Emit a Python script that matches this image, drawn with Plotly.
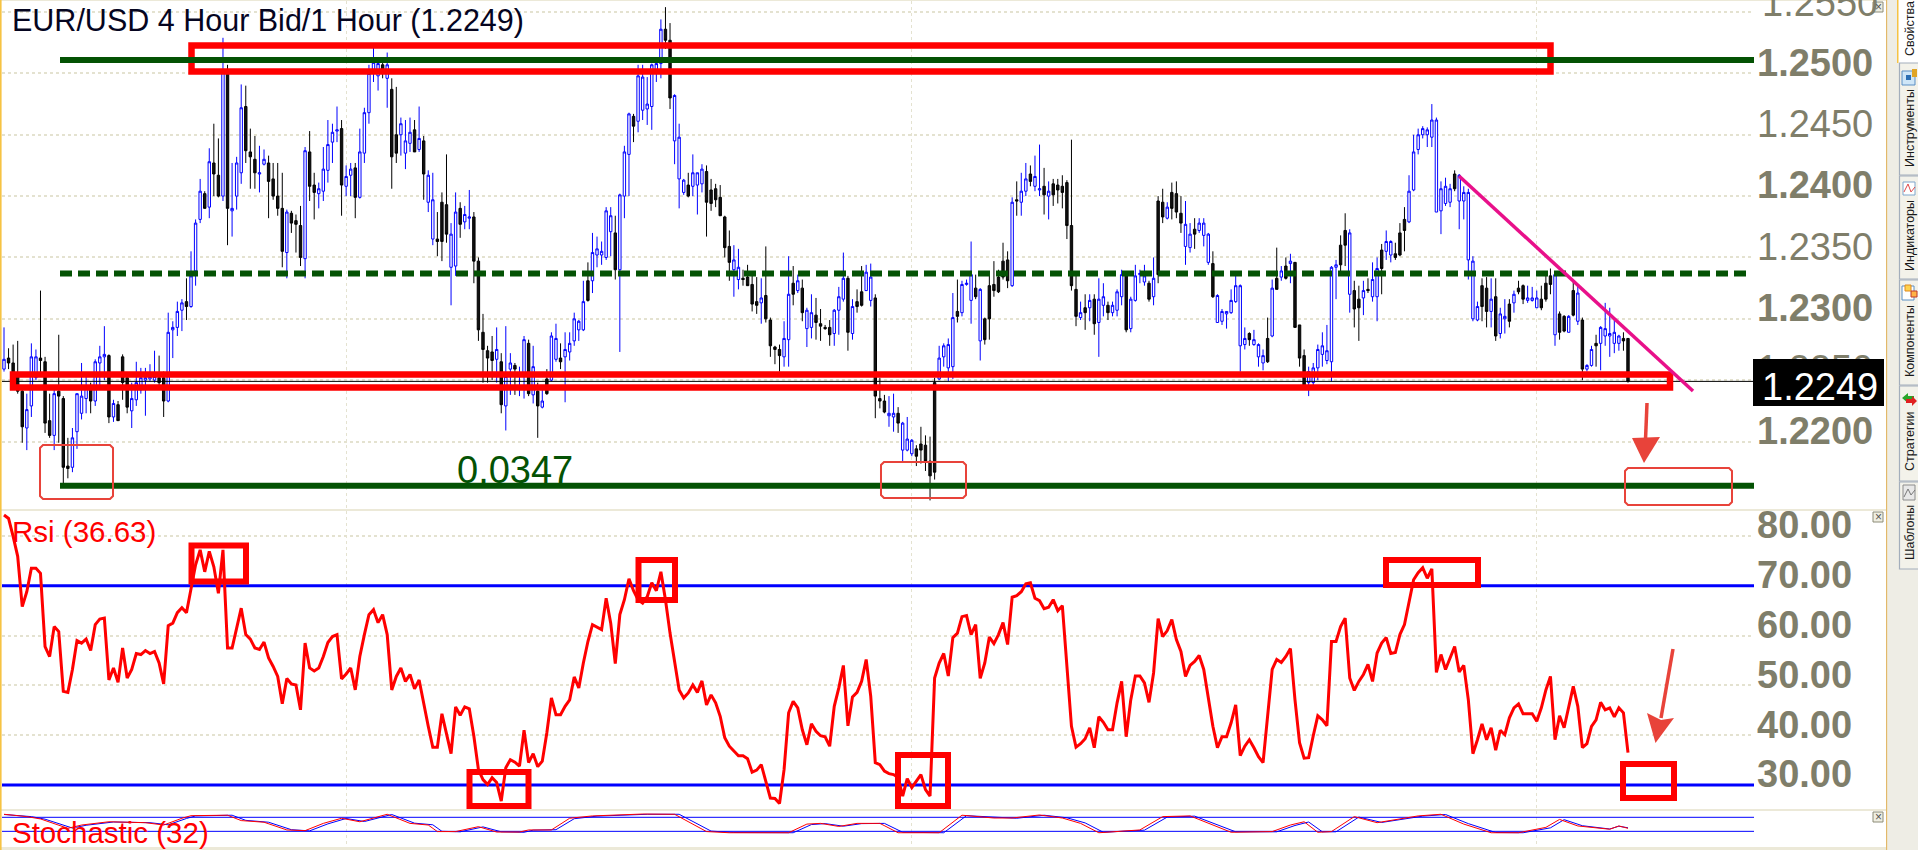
import plotly.graph_objects as go

W, H = 1918, 850

# candles, in pips (12500 = 1.2500)
up_flags = ("BKKKKBBBKK" "KBKKKBBBBK" "BBBKBKKKBB" "BBBBKKBBBB" "KBBBKBKKBK"
            "BBBKKKBBKK" "KKBKKKBKKB" "BBBBKBBKBB" "BBBKBKKBBB" "KBKBBKKKBB"
            "KBBKKKKKBK" "BBKBBKBKBK" "BBKBBBBBKB" "BBBBKBBBKB" "BBBBBKKBBB"
            "KBBBKKKKKK" "BBKKKKBKKK" "KBBKBKBBKK" "KKBBBKBKKB" "BKKKBBKBBB"
            "KKKKKBBBBK" "BBBKBKKKKK" "KBKBBKBBKB" "KKKKKKBKBK" "BBKBBBKBBB"
            "BKBKKBKKKB" "BKBBBKBBBB" "BBBKBBBKBK" "BKBKKKBBBB" "BBBKKBKKBK"
            "BBKBBKKKBB" "BBBBBBBBKB" "BBBBKKBKBB" "KBKKBBBKKK" "BKKBKBKBBK"
            "BBBBBKKBKB")

highs = [12293, 12276, 12279, 12282, 12242, 12239, 12280, 12275, 12323, 12269,
         12239, 12242, 12287, 12237, 12203, 12211, 12239, 12264, 12253, 12248,
         12267, 12278, 12294, 12271, 12234, 12233, 12271, 12253, 12248, 12265,
         12260, 12260, 12263, 12274, 12270, 12257, 12305, 12298, 12314, 12316,
         12333, 12355, 12381, 12414, 12404, 12439, 12459, 12447, 12529, 12507,
         12427, 12432, 12491, 12490, 12455, 12449, 12441, 12438, 12433, 12427,
         12427, 12419, 12389, 12388, 12385, 12392, 12440, 12453, 12419, 12411,
         12440, 12462, 12459, 12473, 12462, 12425, 12427, 12427, 12455, 12472,
         12507, 12521, 12513, 12511, 12517, 12496, 12489, 12464, 12462, 12464,
         12462, 12473, 12449, 12421, 12419, 12387, 12403, 12434, 12378, 12403,
         12395, 12392, 12405, 12387, 12350, 12304, 12278, 12286, 12293, 12272,
         12294, 12272, 12264, 12261, 12286, 12283, 12278, 12248, 12245, 12259,
         12289, 12296, 12280, 12289, 12289, 12305, 12299, 12331, 12346, 12370,
         12367, 12363, 12391, 12391, 12384, 12402, 12441, 12468, 12467, 12507,
         12507, 12497, 12508, 12509, 12544, 12554, 12541, 12483, 12459, 12414,
         12419, 12434, 12419, 12426, 12425, 12414, 12410, 12409, 12384, 12372,
         12360, 12357, 12340, 12344, 12335, 12334, 12333, 12359, 12301, 12278,
         12279, 12298, 12351, 12343, 12336, 12332, 12309, 12320, 12317, 12308,
         12295, 12299, 12308, 12326, 12354, 12335, 12316, 12324, 12343, 12344,
         12345, 12320, 12252, 12238, 12237, 12239, 12228, 12216, 12220, 12202,
         12197, 12212, 12205, 12204, 12252, 12278, 12280, 12284, 12321, 12332,
         12331, 12332, 12363, 12336, 12325, 12301, 12336, 12347, 12340, 12362,
         12355, 12399, 12412, 12419, 12427, 12425, 12433, 12442, 12423, 12412,
         12414, 12414, 12417, 12413, 12446, 12335, 12314, 12320, 12320, 12320,
         12333, 12329, 12314, 12314, 12324, 12340, 12338, 12318, 12344, 12340,
         12344, 12331, 12350, 12400, 12406, 12395, 12411, 12412, 12400, 12396,
         12378, 12382, 12382, 12382, 12370, 12355, 12320, 12308, 12306, 12324,
         12336, 12328, 12293, 12289, 12291, 12280, 12275, 12301, 12332, 12358,
         12343, 12350, 12353, 12346, 12295, 12275, 12261, 12264, 12279, 12289,
         12295, 12343, 12348, 12368, 12386, 12373, 12331, 12327, 12331, 12333,
         12346, 12350, 12361, 12372, 12364, 12362, 12378, 12391, 12417, 12450,
         12455, 12457, 12456, 12475, 12464, 12412, 12415, 12410, 12421, 12418,
         12408, 12406, 12351, 12314, 12333, 12334, 12333, 12333, 12309, 12316,
         12316, 12323, 12331, 12328, 12327, 12326, 12323, 12327, 12338, 12341,
         12336, 12306, 12303, 12303, 12331, 12327, 12301, 12263, 12278, 12287,
         12294, 12313, 12309, 12301, 12287, 12289, 12284]

body_tops = [12267, 12268, 12264, 12256, 12241, 12226, 12269, 12269, 12268, 12265,
             12217, 12239, 12241, 12235, 12180, 12203, 12239, 12237, 12244, 12242,
             12265, 12269, 12271, 12270, 12231, 12230, 12269, 12252, 12235, 12248,
             12252, 12252, 12253, 12253, 12252, 12252, 12289, 12293, 12306, 12313,
             12314, 12335, 12378, 12404, 12402, 12428, 12427, 12417, 12501, 12500,
             12390, 12427, 12472, 12473, 12436, 12430, 12419, 12430, 12427, 12414,
             12400, 12390, 12387, 12386, 12380, 12376, 12437, 12436, 12409, 12406,
             12422, 12442, 12452, 12454, 12455, 12416, 12422, 12423, 12436, 12468,
             12500, 12509, 12508, 12507, 12507, 12487, 12450, 12459, 12445, 12452,
             12454, 12447, 12445, 12417, 12397, 12365, 12395, 12393, 12369, 12387,
             12390, 12385, 12383, 12383, 12347, 12289, 12274, 12273, 12275, 12265,
             12253, 12264, 12262, 12256, 12283, 12280, 12261, 12241, 12233, 12251,
             12286, 12284, 12268, 12275, 12280, 12300, 12298, 12314, 12331, 12354,
             12357, 12355, 12388, 12384, 12370, 12401, 12436, 12467, 12465, 12498,
             12497, 12475, 12507, 12508, 12536, 12536, 12527, 12482, 12448, 12413,
             12409, 12419, 12419, 12422, 12420, 12405, 12406, 12399, 12383, 12359,
             12348, 12342, 12333, 12334, 12328, 12314, 12317, 12319, 12299, 12277,
             12275, 12284, 12320, 12329, 12331, 12325, 12307, 12305, 12303, 12296,
             12293, 12293, 12307, 12318, 12333, 12333, 12310, 12314, 12322, 12338,
             12334, 12317, 12235, 12233, 12223, 12223, 12223, 12215, 12202, 12201,
             12194, 12198, 12197, 12184, 12248, 12268, 12278, 12279, 12301, 12306,
             12328, 12329, 12336, 12325, 12324, 12300, 12327, 12328, 12334, 12347,
             12348, 12395, 12397, 12404, 12414, 12418, 12416, 12406, 12408, 12404,
             12410, 12409, 12408, 12411, 12376, 12324, 12305, 12309, 12315, 12316,
             12316, 12318, 12311, 12311, 12322, 12336, 12336, 12316, 12335, 12337,
             12335, 12329, 12333, 12396, 12395, 12391, 12403, 12402, 12386, 12377,
             12369, 12373, 12378, 12378, 12369, 12345, 12319, 12306, 12306, 12315,
             12327, 12327, 12284, 12288, 12283, 12279, 12270, 12284, 12325, 12333,
             12339, 12343, 12347, 12346, 12295, 12270, 12257, 12260, 12275, 12278,
             12274, 12342, 12344, 12360, 12372, 12370, 12323, 12316, 12323, 12324,
             12332, 12341, 12356, 12363, 12363, 12353, 12370, 12381, 12404, 12436,
             12450, 12455, 12454, 12462, 12462, 12406, 12408, 12406, 12418, 12417,
             12403, 12403, 12347, 12310, 12327, 12325, 12316, 12318, 12304, 12302,
             12312, 12320, 12325, 12327, 12317, 12317, 12317, 12316, 12329, 12335,
             12336, 12304, 12302, 12302, 12323, 12321, 12299, 12262, 12275, 12280,
             12293, 12292, 12288, 12289, 12286, 12284, 12284]

body_bottoms = [12259, 12264, 12249, 12241, 12212, 12211, 12229, 12252, 12266, 12215,
                12205, 12205, 12237, 12179, 12178, 12179, 12208, 12223, 12235, 12233,
                12233, 12264, 12269, 12220, 12220, 12217, 12248, 12228, 12225, 12234,
                12242, 12250, 12251, 12250, 12248, 12233, 12233, 12291, 12293, 12307,
                12310, 12310, 12339, 12381, 12390, 12391, 12418, 12400, 12400, 12390,
                12388, 12400, 12419, 12437, 12432, 12419, 12418, 12426, 12412, 12400,
                12390, 12355, 12354, 12378, 12377, 12350, 12349, 12408, 12403, 12402,
                12404, 12421, 12444, 12453, 12409, 12408, 12417, 12399, 12399, 12435,
                12468, 12500, 12498, 12500, 12496, 12432, 12435, 12450, 12435, 12443,
                12436, 12438, 12418, 12395, 12365, 12363, 12363, 12369, 12342, 12343,
                12377, 12379, 12382, 12347, 12291, 12275, 12268, 12266, 12267, 12230,
                12229, 12259, 12259, 12253, 12254, 12239, 12238, 12229, 12228, 12239,
                12250, 12267, 12265, 12269, 12273, 12282, 12291, 12291, 12315, 12331,
                12352, 12352, 12350, 12371, 12340, 12340, 12400, 12434, 12457, 12461,
                12470, 12471, 12473, 12500, 12508, 12527, 12480, 12445, 12414, 12403,
                12400, 12408, 12409, 12410, 12395, 12394, 12397, 12384, 12358, 12346,
                12340, 12332, 12332, 12327, 12312, 12311, 12313, 12300, 12278, 12275,
                12270, 12269, 12283, 12320, 12323, 12305, 12292, 12293, 12297, 12294,
                12292, 12287, 12288, 12307, 12316, 12289, 12288, 12310, 12311, 12323,
                12315, 12237, 12233, 12224, 12221, 12220, 12215, 12193, 12193, 12190,
                12188, 12193, 12184, 12172, 12175, 12251, 12269, 12260, 12261, 12302,
                12305, 12328, 12315, 12318, 12282, 12283, 12300, 12323, 12322, 12334,
                12331, 12327, 12396, 12395, 12404, 12412, 12408, 12405, 12401, 12400,
                12401, 12405, 12403, 12376, 12327, 12302, 12301, 12305, 12309, 12296,
                12297, 12311, 12305, 12305, 12307, 12318, 12291, 12292, 12315, 12336,
                12330, 12316, 12318, 12336, 12383, 12382, 12390, 12387, 12378, 12359,
                12358, 12369, 12372, 12368, 12346, 12318, 12297, 12298, 12304, 12305,
                12314, 12278, 12279, 12283, 12279, 12269, 12264, 12265, 12286, 12324,
                12334, 12333, 12345, 12293, 12268, 12245, 12248, 12248, 12260, 12271,
                12266, 12265, 12342, 12344, 12360, 12320, 12308, 12309, 12317, 12323,
                12318, 12318, 12341, 12355, 12352, 12350, 12352, 12372, 12379, 12405,
                12438, 12450, 12450, 12448, 12387, 12388, 12394, 12395, 12406, 12396,
                12396, 12348, 12300, 12299, 12310, 12306, 12306, 12286, 12288, 12300,
                12298, 12313, 12322, 12316, 12315, 12315, 12309, 12309, 12316, 12328,
                12287, 12289, 12290, 12289, 12303, 12298, 12259, 12259, 12262, 12278,
                12280, 12286, 12286, 12280, 12280, 12282, 12249]

lows = [12257, 12259, 12242, 12239, 12199, 12193, 12220, 12250, 12253, 12207,
        12203, 12193, 12199, 12166, 12170, 12175, 12194, 12218, 12223, 12223,
        12229, 12244, 12250, 12215, 12216, 12217, 12234, 12223, 12211, 12229,
        12239, 12221, 12249, 12248, 12245, 12220, 12232, 12268, 12286, 12290,
        12299, 12309, 12327, 12378, 12390, 12382, 12400, 12399, 12396, 12360,
        12367, 12389, 12410, 12427, 12406, 12406, 12403, 12425, 12382, 12397,
        12384, 12342, 12333, 12370, 12354, 12343, 12333, 12396, 12381, 12390,
        12396, 12411, 12427, 12444, 12384, 12400, 12400, 12382, 12398, 12427,
        12459, 12493, 12486, 12496, 12472, 12406, 12427, 12433, 12422, 12436,
        12436, 12436, 12397, 12387, 12360, 12351, 12347, 12362, 12311, 12335,
        12366, 12373, 12373, 12329, 12282, 12248, 12248, 12250, 12248, 12223,
        12209, 12238, 12238, 12237, 12235, 12237, 12231, 12203, 12227, 12238,
        12249, 12265, 12259, 12232, 12266, 12278, 12282, 12290, 12314, 12321,
        12342, 12344, 12348, 12351, 12332, 12273, 12382, 12400, 12444, 12452,
        12462, 12458, 12454, 12493, 12496, 12520, 12471, 12426, 12390, 12401,
        12399, 12400, 12385, 12403, 12367, 12388, 12391, 12384, 12350, 12331,
        12318, 12324, 12327, 12327, 12306, 12304, 12296, 12297, 12269, 12263,
        12257, 12261, 12261, 12311, 12321, 12298, 12277, 12284, 12283, 12282,
        12291, 12278, 12278, 12287, 12314, 12274, 12283, 12305, 12310, 12323,
        12310, 12219, 12227, 12223, 12212, 12208, 12207, 12184, 12192, 12188,
        12180, 12182, 12176, 12152, 12169, 12250, 12261, 12249, 12251, 12297,
        12302, 12327, 12296, 12316, 12266, 12279, 12283, 12318, 12321, 12332,
        12325, 12326, 12384, 12384, 12400, 12408, 12404, 12400, 12385, 12381,
        12392, 12394, 12390, 12365, 12323, 12294, 12299, 12291, 12298, 12287,
        12269, 12302, 12299, 12302, 12302, 12311, 12289, 12289, 12314, 12329,
        12327, 12314, 12311, 12329, 12378, 12381, 12381, 12382, 12370, 12344,
        12354, 12357, 12370, 12359, 12344, 12317, 12297, 12295, 12292, 12304,
        12313, 12257, 12275, 12278, 12278, 12261, 12258, 12264, 12285, 12324,
        12331, 12332, 12329, 12293, 12261, 12245, 12237, 12246, 12250, 12261,
        12263, 12249, 12316, 12335, 12343, 12305, 12293, 12282, 12303, 12321,
        12314, 12298, 12320, 12348, 12346, 12348, 12351, 12355, 12378, 12404,
        12434, 12447, 12440, 12440, 12387, 12369, 12392, 12391, 12404, 12373,
        12381, 12332, 12298, 12298, 12298, 12293, 12293, 12282, 12284, 12288,
        12293, 12305, 12320, 12312, 12313, 12314, 12309, 12307, 12314, 12320,
        12278, 12283, 12289, 12289, 12302, 12295, 12250, 12257, 12261, 12261,
        12258, 12278, 12269, 12272, 12274, 12274, 12248]

rsi_values = [84.2, 83.5, 79.9, 75.9, 65.8, 68.8, 73.5, 73.5, 72.5, 57.8,
              55.8, 61.8, 60.8, 48.8, 48.6, 53.2, 59.0, 58.5, 59.3, 57.0,
              62.2, 63.3, 63.5, 51.1, 53.5, 50.6, 57.5, 51.5, 53.2, 56.4,
              56.2, 57.0, 56.4, 56.8, 54.5, 50.3, 62.0, 62.5, 64.6, 65.6,
              64.6, 69.5, 74.2, 77.2, 72.8, 76.9, 73.8, 68.5, 77.2, 57.5,
              57.5, 61.5, 65.5, 60.2, 59.3, 57.5, 57.2, 58.7, 55.5, 53.8,
              51.8, 46.3, 51.4, 50.3, 50.1, 45.1, 58.5, 53.5, 52.9, 53.5,
              55.8, 58.6, 59.8, 60.2, 51.3, 52.3, 53.5, 49.1, 55.8, 60.2,
              64.2, 65.2, 62.6, 64.2, 60.2, 49.1, 51.8, 53.5, 50.8, 52.2,
              49.3, 51.1, 46.1, 41.8, 37.6, 37.6, 44.3, 40.5, 36.3, 45.7,
              44.0, 45.7, 45.3, 39.8, 33.1, 31.1, 30.1, 31.5, 30.5, 26.8,
              33.5, 35.1, 34.6, 33.8, 41.0, 34.5, 36.3, 33.7, 34.8, 40.5,
              47.5, 44.1, 44.1, 45.8, 47.1, 51.7, 49.5, 54.5, 58.8, 62.2,
              61.7, 61.2, 67.5, 62.5, 54.4, 64.2, 67.2, 71.4, 69.0, 67.2,
              66.5, 67.8, 70.6, 69.0, 72.8, 67.2, 60.5, 54.5, 49.1, 47.5,
              48.5, 50.1, 48.6, 50.9, 46.1, 48.1, 46.5, 43.8, 39.5, 37.8,
              36.8, 35.9, 35.9, 35.3, 32.6, 33.0, 34.1, 30.5, 27.4, 27.3,
              26.3, 33.1, 44.5, 46.8, 45.5, 41.1, 38.1, 42.3, 40.8, 39.9,
              39.7, 37.8, 45.8, 49.5, 54.0, 41.9, 47.7, 48.6, 50.8, 55.2,
              47.8, 34.5, 34.1, 32.8, 32.3, 32.1, 31.5, 27.8, 31.3, 29.5,
              30.8, 32.1, 29.1, 27.8, 51.5, 54.5, 56.4, 51.9, 59.6, 60.5,
              63.8, 64.0, 60.2, 62.2, 51.4, 54.5, 59.7, 58.4, 60.2, 62.6,
              58.2, 67.7, 68.0, 68.8, 70.4, 70.6, 67.5, 67.0, 65.4, 65.7,
              67.2, 65.0, 66.0, 53.8, 41.8, 37.6, 38.3, 39.3, 41.5, 37.5,
              43.7, 42.6, 41.1, 41.1, 46.5, 50.8, 39.7, 47.1, 51.9, 51.9,
              50.5, 46.6, 52.5, 63.4, 59.8, 61.0, 63.2, 59.2, 56.8, 51.8,
              54.0, 54.8, 56.0, 53.2, 47.8, 41.8, 37.5, 39.7, 39.7, 42.5,
              46.1, 35.9, 37.8, 39.1, 37.5, 35.7, 34.5, 43.8, 53.2, 55.2,
              54.6, 55.8, 57.4, 47.1, 38.5, 35.4, 35.5, 39.9, 43.9, 43.1,
              41.9, 58.8, 58.8, 61.8, 63.5, 51.5, 49.0, 50.8, 52.2, 54.2,
              50.8, 56.5, 58.5, 59.6, 56.4, 56.6, 60.2, 62.2, 66.8, 71.2,
              72.6, 73.6, 71.5, 73.4, 52.6, 56.2, 53.2, 55.5, 57.8, 52.7,
              54.0, 47.1, 36.3, 39.1, 42.3, 39.1, 41.5, 37.0, 41.0, 40.1,
              43.5, 45.5, 46.3, 44.3, 44.3, 44.3, 42.8, 45.5, 49.1, 51.8,
              39.1, 43.9, 41.5, 45.5, 49.8, 45.8, 37.5, 38.3, 41.8, 43.1,
              46.6, 45.1, 45.5, 43.7, 45.5, 44.5, 36.5]

stoch_bars = [0, 5, 8, 14, 17, 23, 31, 35, 39, 41, 49, 52, 57, 62, 66, 70, 74, 78, 84, 89,
              93, 95, 99, 104, 108, 113, 115, 120, 124, 129, 140, 147, 154, 159, 172, 176,
              179, 183, 187, 192, 196, 205, 210, 217, 221, 227, 232, 236, 240, 249, 254,
              260, 269, 278, 282, 285, 288, 291, 296, 301, 310, 315, 320, 326, 332, 338,
              341, 345, 352, 354, 356]
stoch_k = [93, 83, 73, 33, 47, 61, 57, 47, 76, 87, 89, 66, 59, 26, 23, 54, 76, 61, 93, 54,
           47, 19, 19, 40, 17, 17, 26, 26, 76, 86, 94, 93, 19, 14, 14, 51,
           54, 41, 54, 54, 14, 14, 89, 77, 77, 90, 77, 54, 14, 26, 83,
           86, 16, 19, 47, 61, 16, 19, 83, 57, 86, 93, 51, 14, 14, 37,
           71, 43, 29, 43, 33]
stoch_d_bars = [0, 6, 9, 15, 18, 24, 32, 36, 40, 42, 50, 53, 58, 63, 67, 71, 75, 79, 85, 90,
                94, 96, 100, 105, 109, 114, 116, 121, 125, 130, 141, 148, 155, 160, 173, 177,
                180, 184, 188, 193, 197, 206, 211, 218, 222, 228, 233, 237, 241, 250, 255,
                261, 270, 279, 283, 286, 289, 292, 297, 302, 311, 316, 321, 327, 333, 339,
                342, 346, 352, 354, 356]
stoch_d = [92, 83, 72, 34, 46, 60, 57, 48, 75, 86, 89, 67, 59, 27, 22, 52, 75, 62, 92, 55,
           48, 20, 18, 39, 18, 16, 25, 27, 74, 85, 93, 93, 21, 15, 14, 49,
           53, 42, 53, 54, 16, 14, 87, 78, 76, 89, 78, 56, 16, 25, 81,
           85, 18, 18, 45, 60, 18, 18, 81, 58, 85, 92, 53, 15, 14, 35,
           70, 44, 30, 42, 35]

price_ticks = [12200, 12250, 12300, 12350, 12400, 12450, 12500, 12550]
bold_price_ticks = [12200, 12300, 12400, 12500]
rsi_ticks = [30, 40, 50, 60, 70, 80]
rsi_levels = [30, 70]
stoch_levels = [20, 80]
grid_bars = [75, 199, 336]

top_level = 1.2511
mid_level = 1.2337
bottom_level = 1.2164
last_price = 1.2249

tab_labels = ["Свойства", "Инструменты", "Индикаторы", "Компоненты", "Стратегии", "Шаблоны"]
tab_centers = [29, 128, 236, 341, 442, 533]
tab_edges = [63, 176, 280, 386, 482, 570]

RED = "#ff0000"
SOFT_RED = "#e8433a"
GREEN = "#045204"
BEIGE = "#ece9d8"
LABEL = "#7f7e6a"


def px(x):
    return x / W


def py(y):
    return 1 - y / H


def rect(x0, y0, x1, y1, color=None, width=0, fill=None, layer="above"):
    return dict(type="rect", xref="paper", yref="paper", x0=px(x0), x1=px(x1), y0=py(y0), y1=py(y1),
                line=dict(color=color or "rgba(0,0,0,0)", width=width), fillcolor=fill or "rgba(0,0,0,0)", layer=layer)


def poly(points, fill=None, color=None, width=0, close=True):
    d = "M" + " L".join(f"{px(x):.5f},{py(y):.5f}" for x, y in points) + (" Z" if close else "")
    return dict(type="path", xref="paper", yref="paper", path=d, fillcolor=fill or "rgba(0,0,0,0)",
                line=dict(color=color or "rgba(0,0,0,0)", width=width), layer="above")


def rounded(x0, y0, x1, y1, r=3):
    pts = [(x0 + r, y0), (x1 - r, y0), (x1, y0 + r), (x1, y1 - r), (x1 - r, y1), (x0 + r, y1), (x0, y1 - r), (x0, y0 + r)]
    return poly(pts, color=SOFT_RED, width=2)


def level(y, color, width, x0=60, x1=1754, dash="solid", yref="y"):
    return dict(type="line", xref="paper", yref=yref, x0=px(x0), x1=px(x1), y0=y, y1=y,
                line=dict(color=color, width=width, dash=dash), layer="above")


def text(x, y, s, size, color, xanchor="left", font="Liberation Sans", angle=0):
    return dict(x=px(x), y=py(y), xref="paper", yref="paper", text=s, showarrow=False, xanchor=xanchor,
                yanchor="middle", textangle=angle, font=dict(family=font, size=size, color=color))


bars = list(range(len(highs)))
opens = [(b if f == "B" else t) / 10000 for f, t, b in zip(up_flags, body_tops, body_bottoms)]
closes = [(t if f == "B" else b) / 10000 for f, t, b in zip(up_flags, body_tops, body_bottoms)]

# first candle sits at px 4, last at px 1628, plot area is px 2..1754
bar_w = (1628 - 4) / (len(bars) - 1)
x_range = [-2 / bar_w, (1754 - 4) / bar_w]

fig = go.Figure()
fig.add_trace(go.Candlestick(x=bars, open=opens, high=[v / 10000 for v in highs], low=[v / 10000 for v in lows],
                             close=closes, whiskerwidth=0, hoverinfo="skip",
                             increasing=dict(line=dict(color="#0000ff", width=1), fillcolor="#ffffff"),
                             decreasing=dict(line=dict(color="#000000", width=1), fillcolor="#111111")))
for lv in rsi_levels:
    fig.add_trace(go.Scatter(x=x_range, y=[lv, lv], mode="lines", yaxis="y2", line=dict(color="#0000ff", width=3)))
fig.add_trace(go.Scatter(x=bars, y=rsi_values, mode="lines", yaxis="y2", line=dict(color=RED, width=3)))
for lv in stoch_levels:
    fig.add_trace(go.Scatter(x=x_range, y=[lv, lv], mode="lines", yaxis="y3", line=dict(color="#0000ff", width=1)))
fig.add_trace(go.Scatter(x=stoch_d_bars, y=stoch_d, mode="lines", yaxis="y3", line=dict(color="#0000ff", width=1)))
fig.add_trace(go.Scatter(x=stoch_bars, y=stoch_k, mode="lines", yaxis="y3", line=dict(color=RED, width=1)))

shapes = [
    # page frame and pane separators
    rect(0, 0, 1886, 1, fill=BEIGE),
    rect(0, 509, 1886, 511, fill=BEIGE),
    rect(0, 809, 1886, 811, fill=BEIGE),
    rect(0, 847, 1886, 850, fill=BEIGE),
    rect(0, 0, 1.6, 850, fill="#f6c343"),
    rect(1886, 0, 1887.5, 850, fill="#e2b96a"),
    rect(1887.5, 0, 1918, 850, fill="#eeede5"),
    # last price line
    level(last_price, "#000000", 1, x0=2),
    # thick boxes round the ranges
    rect(191.5, 45.5, 1550.5, 71.5, color=RED, width=6.5),
    rect(13, 374.5, 1670, 387.5, color=RED, width=6.5),
    # range levels
    level(top_level, GREEN, 6),
    level(mid_level, GREEN, 6, x1=1749, dash="12px,6px"),
    level(bottom_level, GREEN, 6),
    rounded(40, 445, 113, 499),
    rounded(881, 462, 966, 498),
    rounded(1625, 468, 1732, 505),
    # trend line
    poly([(1459, 176), (1693, 391)], color="#e8108a", width=3.5, close=False),
    # arrows
    poly([(1647, 403), (1645.5, 440)], color=SOFT_RED, width=3.5, close=False),
    poly([(1632, 438), (1660, 437), (1644, 463)], fill=SOFT_RED),
    poly([(1673, 649), (1661, 718)], color=SOFT_RED, width=3.5, close=False),
    poly([(1647, 713), (1661, 720), (1674, 718), (1655.5, 743)], fill=SOFT_RED),
    # rsi boxes
    rect(191.5, 545.5, 246, 581.5, color=RED, width=6),
    rect(638.5, 560, 675, 600, color=RED, width=6),
    rect(469.5, 772, 528.5, 806, color=RED, width=6),
    rect(898, 755, 948, 806, color=RED, width=6),
    rect(1386, 560, 1478, 585, color=RED, width=6),
    rect(1623, 764, 1674, 798, color=RED, width=6),
    # last price flag
    rect(1753, 359, 1884, 406, fill="#000000"),
    # close buttons
    rect(1873, 2, 1883, 12, color="#8c8c78", width=1, fill="#efeee2"),
    rect(1873, 512, 1883, 522, color="#8c8c78", width=1, fill="#efeee2"),
    rect(1873, 812, 1883, 822, color="#8c8c78", width=1, fill="#efeee2"),
]

# side tabs
prev = 0
for i, edge in enumerate(tab_edges):
    if i == 0:
        shapes.append(rect(1897, -2, 1919, edge, fill="#ffffff"))
        shapes.append(rect(1897, -2, 1898.5, edge, fill="#f6c343"))
    else:
        shapes.append(rect(1899.5, prev, 1920, edge - 1, color="#a3aebc", width=1.2, fill="#f3f2ea"))
    prev = edge

# tab icons
shapes += [
    rect(1902, 71, 1915, 85, color="#5b8fc4", width=1, fill="#cfe6f7"),
    rect(1912, 69, 1917, 77, fill="#e0a526"),
    rect(1906, 75, 1911, 80, fill="#2c6fb3"),
    rect(1903, 182, 1915, 195, color="#7fa6cc", width=1, fill="#ffffff"),
    poly([(1904, 192), (1908, 184), (1911, 192), (1915, 187)], color="#e04a4a", width=1, close=False),
    rect(1902, 286, 1914, 300, color="#5b8fc4", width=1, fill="#ffffff"),
    rect(1905, 285, 1911, 291, color="#e08a1e", width=1, fill="#ffd24d"),
    rect(1911, 291, 1917, 297, color="#c0392b", width=1, fill="#ffb347"),
    poly([(1902, 398), (1908, 393), (1908, 396), (1914, 396), (1914, 400), (1908, 400), (1908, 403)], fill="#2aa52a"),
    poly([(1917, 401), (1912, 396), (1912, 399), (1906, 399), (1906, 403), (1912, 403), (1912, 406)], fill="#e02020"),
    rect(1903, 485, 1915, 500, color="#8c8c8c", width=1, fill="#e8e8e8"),
    poly([(1904, 497), (1908, 489), (1911, 495), (1915, 490)], color="#777777", width=1, close=False),
]

annotations = [
    text(10, 21, "EUR/USD 4 Hour Bid/1 Hour (1.2249)", 30.5, "#05051f"),
    text(455, 470, "0.0347", 38, GREEN),
    text(10, 531, "Rsi (36.63)", 29.5, RED),
    text(10, 832, "Stochastic (32)", 29.5, RED),
    text(1760, 3, "1.2550", 38, LABEL),
    text(1760, 387, "1.2249", 38, "#ffffff"),
    text(1878, 7, "×", 12, "#555555", xanchor="center"),
    text(1878, 517, "×", 12, "#555555", xanchor="center"),
    text(1878, 817, "×", 12, "#555555", xanchor="center"),
]
for label, c in zip(tab_labels, tab_centers):
    annotations.append(text(1910, c, label, 12.5, "#1a1a1a", xanchor="center", angle=-90))

# the 1.2550 label runs off the top of the page, so it is an annotation above
price_text = ["" if t == 12550 else f"<b>{t / 10000:.4f}</b>" if t in bold_price_ticks else f"{t / 10000:.4f}"
              for t in price_ticks]
axis_common = dict(side="right", anchor="x", zeroline=False, showline=False, griddash="dot", gridcolor="#e4e2d0",
                   gridwidth=1.5, ticks="", tickfont=dict(family="Liberation Sans", size=38, color=LABEL),
                   ticklabelshift=-11, ticklabelstandoff=2, automargin=False)

fig.update_layout(
    width=W, height=H, margin=dict(l=0, r=0, t=0, b=0, pad=0), paper_bgcolor="#ffffff", plot_bgcolor="#ffffff",
    showlegend=False, hovermode=False, boxgap=0.25, shapes=shapes, annotations=annotations,
    xaxis=dict(domain=[px(2), px(1754)], range=x_range, anchor="y3", rangeslider=dict(visible=False), tickvals=grid_bars,
               showticklabels=False, ticks="", griddash="dot", gridcolor="#e4e2d0", gridwidth=1, zeroline=False,
               automargin=False),
    yaxis=dict(domain=[py(509), py(1)], range=[1.2145, 1.2559], tickvals=[t / 10000 for t in price_ticks],
               ticktext=price_text, **axis_common),
    yaxis2=dict(domain=[py(809), py(511)], range=[25.2, 85.0], tickvals=rsi_ticks,
                ticktext=[f"<b>{t:.2f}</b>" for t in rsi_ticks], **axis_common),
    yaxis3=dict(domain=[py(847), py(811)], range=[-47, 107], showticklabels=False, showgrid=False, zeroline=False,
                anchor="x", side="right", automargin=False),
)

fig.write_html("out.html", config=dict(displayModeBar=False), post_script="document.body.style.margin='0';")
